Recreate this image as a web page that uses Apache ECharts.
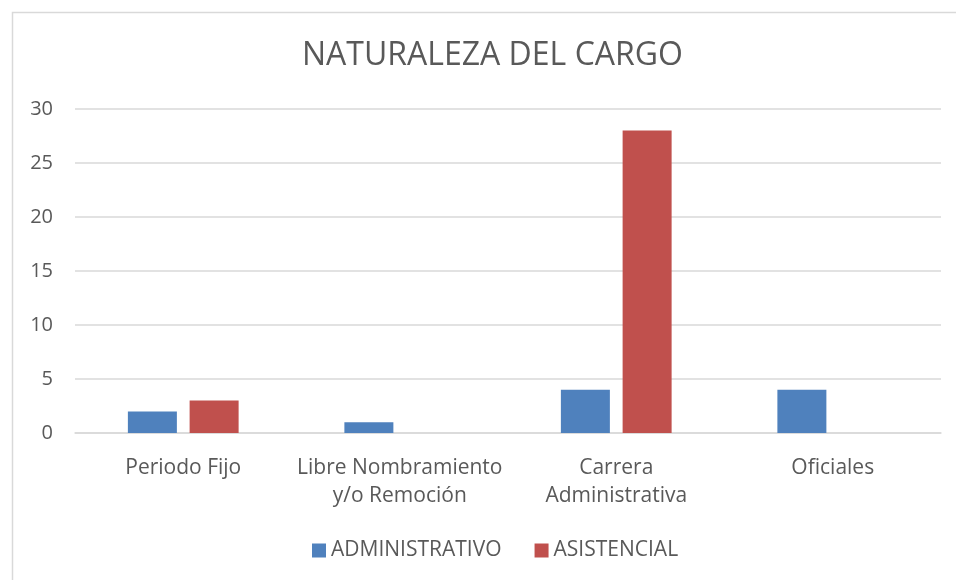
<!DOCTYPE html>
<html><head><meta charset="utf-8">
<script src="https://cdn.jsdelivr.net/npm/echarts@6/dist/echarts.min.js"></script>
<style>html,body{margin:0;padding:0;background:#fff}#c{width:956px;height:580px}</style>
</head><body><div id="c"></div>
<script>
const categories = ['Periodo Fijo', 'Libre Nombramiento\ny/o Remoción', 'Carrera\nAdministrativa', 'Oficiales'];
const administrativo = [2, 1, 4, 4];
const asistencial = [3, 0, 28, 0];
const yTicks = [0, 5, 10, 15, 20, 25, 30];
const FONT = "'Open Sans', 'Noto Sans', sans-serif";
const chart = echarts.init(document.getElementById('c'), null, {renderer: 'canvas'});
chart.setOption({
  animation: false,
  backgroundColor: '#fff',
  graphic: [{type: 'rect', left: 10, top: 10, shape: {width: 980, height: 600}, style: {fill: 'none', stroke: '#d9d9d9', lineWidth: 1.5}, silent: true}],
  title: {text: 'NATURALEZA DEL CARGO', left: 302, top: 40, padding: 0, textStyle: {fontFamily: FONT, fontSize: 32, fontWeight: 'normal', color: '#595959'}},
  legend: {bottom: 19, left: 312, padding: 0, itemWidth: 14, itemHeight: 14, itemGap: 33, icon: 'rect',
    textStyle: {fontFamily: FONT, fontSize: 21, color: '#595959'}},
  grid: {left: 75, right: 15, top: 109, bottom: 147},
  xAxis: {type: 'category', data: categories,
    axisLine: {lineStyle: {color: '#d9d9d9', width: 1.5}}, axisTick: {show: false},
    axisLabel: {fontFamily: FONT, fontSize: 21, color: '#595959', margin: 21, lineHeight: 28, interval: 0}},
  yAxis: {type: 'value', min: yTicks[0], max: yTicks[yTicks.length - 1], interval: 5,
    axisLine: {show: false}, axisTick: {show: false},
    splitLine: {lineStyle: {color: '#d9d9d9', width: 1.5}},
    axisLabel: {fontFamily: FONT, fontSize: 20, color: '#595959', margin: 22}},
  series: [
    {name: 'ADMINISTRATIVO', type: 'bar', data: administrativo, barWidth: 49, barGap: '26%', itemStyle: {color: '#4F81BD'}},
    {name: 'ASISTENCIAL', type: 'bar', data: asistencial, barWidth: 49, itemStyle: {color: '#C0504D'}}
  ]
});
</script></body></html>
